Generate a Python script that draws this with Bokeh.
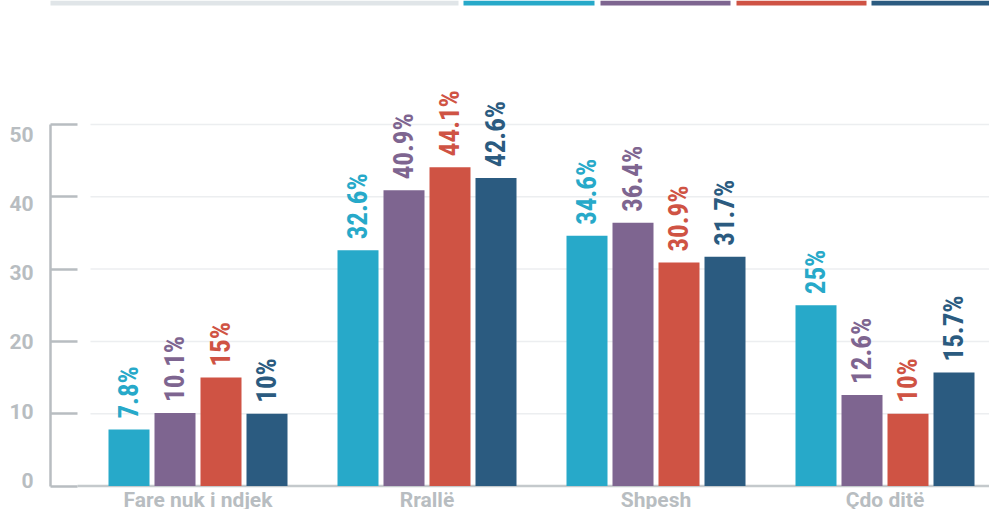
import numpy as np
from bokeh.plotting import figure
from bokeh.models import Range1d, FixedTicker, LinearAxis, BoxAnnotation
from bokeh.embed import file_html
from bokeh.resources import INLINE
from bokeh.core.properties import value

# ---------------- data ----------------
categories = ["Fare nuk i ndjek", "Rrallë", "Shpesh", "Çdo ditë"]
series_1 = [7.8, 32.6, 34.6, 25]
series_2 = [10.1, 40.9, 36.4, 12.6]
series_3 = [15, 44.1, 30.9, 10]
series_4 = [10, 42.6, 31.7, 15.7]
y_ticks = [0, 10, 20, 30, 40, 50]

# ---------------- style ----------------
colors = ["#27a9c9", "#7e6590", "#cf5344", "#2b5b80"]
gray = "#b8bdc1"
grid_gray = "#eceef0"
W, H = 989, 509
label_font = value("'Roboto Condensed', 'Open Sans Condensed', 'DejaVu Sans Condensed', sans-serif")

# layout constants (pixels)
frame_left = 50          # canvas x of the y axis
first_center = 197.5     # canvas x of first category centre
cat_px = 229.0           # pixels per category
px_per_unit = 7.23       # pixels per y unit (bars, ticks, grid)
zero_y = 485.5           # canvas y of value 0
lab_px_per_unit = 6.93   # tick-label scale in the original is slightly tighter
lab_zero_y = 480.0

x_start = -(first_center - frame_left) / cat_px
x_end = x_start + (W - frame_left) / cat_px
y_start = -(H - zero_y) / px_per_unit
y_end = zero_y / px_per_unit

bar_pitch = 46 / cat_px
bar_width = 41 / cat_px
grid_x0 = x_start + 40 / cat_px
base_x0 = x_start + 27 / cat_px

p = figure(width=W, height=H, output_backend="svg", toolbar_location=None,
           x_range=Range1d(x_start, x_end), y_range=Range1d(y_start, y_end),
           x_axis_location=None, min_border_left=frame_left, min_border_right=0,
           min_border_top=0, min_border_bottom=0)
p.outline_line_color = None
p.grid.visible = False
p.background_fill_color = "white"
p.border_fill_color = "white"

# y axis: line + inward ticks (no labels)
ax = p.yaxis[0]
ax.ticker = FixedTicker(ticks=y_ticks)
ax.bounds = (min(y_ticks), max(y_ticks))
ax.major_tick_in = 27
ax.major_tick_out = 0
ax.minor_tick_line_color = None
ax.axis_line_color = gray
ax.axis_line_width = 2.5
ax.major_tick_line_color = gray
ax.major_tick_line_width = 2.5
ax.major_label_overrides = {t: "" for t in y_ticks}
ax.major_label_standoff = 0

# tick labels: second axis on its own range (labels are spaced a bit tighter than the ticks)
p.extra_y_ranges = {"lab": Range1d(-(H - lab_zero_y) / lab_px_per_unit, lab_zero_y / lab_px_per_unit)}
lab = LinearAxis(y_range_name="lab", ticker=FixedTicker(ticks=y_ticks))
lab.axis_line_color = None
lab.major_tick_line_color = None
lab.minor_tick_line_color = None
lab.major_tick_in = 0
lab.major_tick_out = 0
lab.major_label_standoff = 17
lab.major_label_text_color = gray
lab.major_label_text_font = "Roboto"
lab.major_label_text_font_style = "bold"
lab.major_label_text_font_size = "21px"
p.add_layout(lab, "left")

# gridlines
ticks = np.array(y_ticks, dtype=float)
p.segment(x0=grid_x0, y0=ticks[1:], x1=x_end, y1=ticks[1:], line_color=grid_gray, line_width=1.5)
p.segment(x0=base_x0, y0=ticks[:1], x1=x_end, y1=ticks[:1], line_color="#c4c9cc", line_width=2.5)

# bars + value labels
xs = np.arange(len(categories), dtype=float)
all_series = [series_1, series_2, series_3, series_4]
for k, (vals, c) in enumerate(zip(all_series, colors)):
    xk = xs + (k - 1.5) * bar_pitch
    vals = np.array(vals, dtype=float)
    p.vbar(x=xk, top=vals, bottom=0, width=bar_width, fill_color=c, line_color=None)
    p.text(x=xk, y=vals, text=[f"{v:g}%" for v in vals], angle=np.pi / 2,
           text_align="left", text_baseline="middle", y_offset=-11,
           text_color=c, text_font=label_font,
           text_font_style="bold", text_font_size="27px")

# category labels
p.text(x=xs, y=np.zeros(len(xs)), text=categories, y_offset=2,
       text_align="center", text_baseline="top", text_color=gray,
       text_font=value("Roboto"), text_font_style="bold", text_font_size="21px")

# legend strip at top
strip_colors = ["#e0e5e8"] + colors
strip_edges = [(13, 458), (463, 594), (600, 730), (736, 866), (871, 997)]
for c, (l, r) in zip(strip_colors, strip_edges):
    p.add_layout(BoxAnnotation(left=l, right=min(r, W), top=0, bottom=5,
                               left_units="canvas", right_units="canvas",
                               top_units="canvas", bottom_units="canvas",
                               fill_color=c, fill_alpha=1, line_color=None))

open("out.html", "w").write(file_html(p, INLINE))
